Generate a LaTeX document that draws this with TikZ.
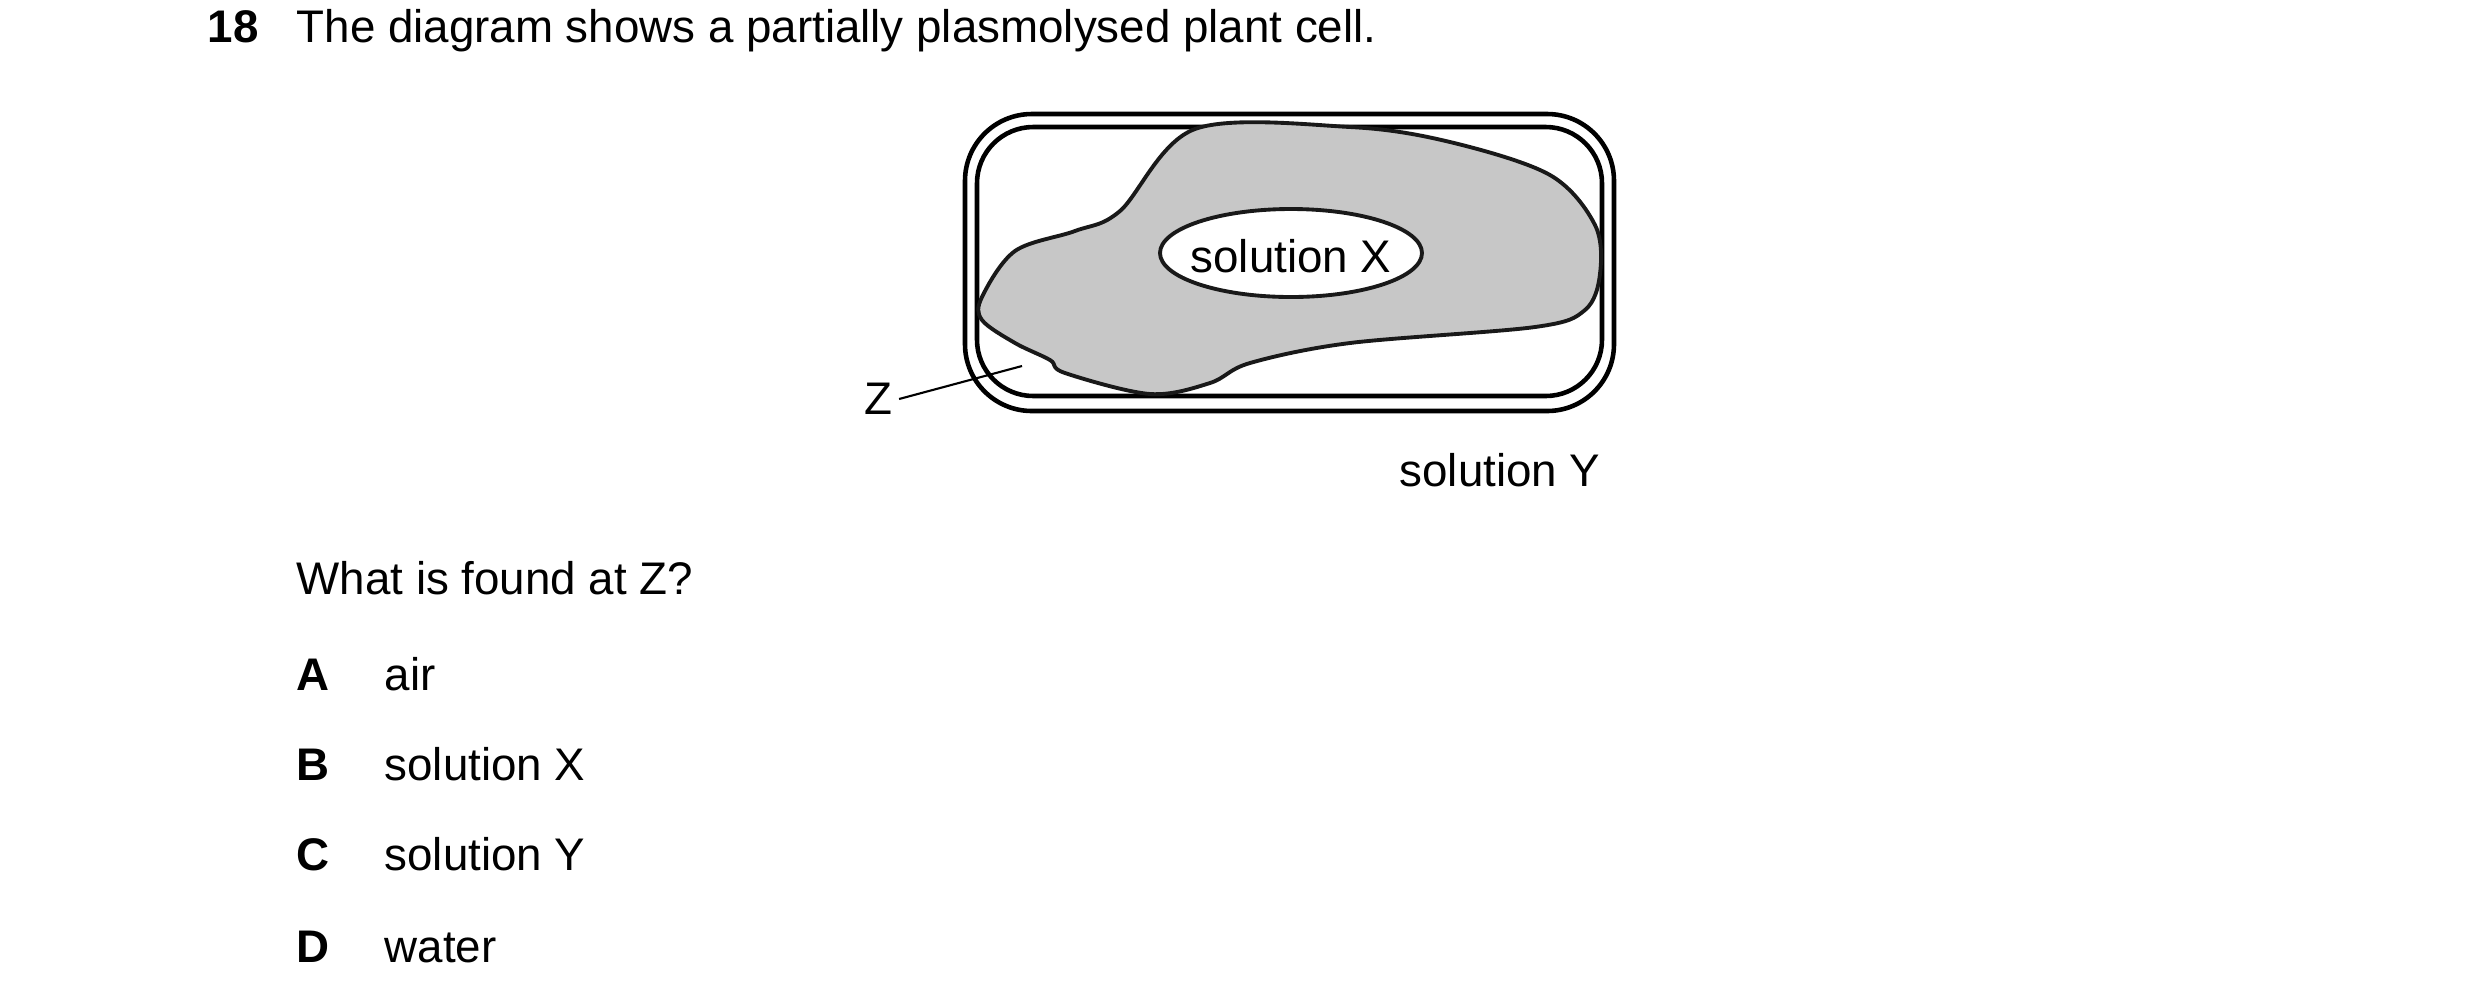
\documentclass[tikz,border=0pt]{standalone}
\usepackage{fontspec}
\setmainfont{Liberation Sans}
\begin{document}
\begin{tikzpicture}[x=0.01cm, y=-0.01cm, every node/.style={font=\fontsize{13}{15}\selectfont, inner sep=0pt}]
  \def\wallw{1.3pt}
  \useasboundingbox (0,0) rectangle (2480,1005);

  % question text
  \node[anchor=base west, font=\fontsize{13}{15}\selectfont\bfseries] (qnum) at (207,42) {18};
  \node[anchor=base west] (qtext) at (296,42) {The diagram shows a partially plasmolysed plant cell.};
  \node[anchor=base west] (ask) at (296,594) {What is found at Z?};

  % cell walls
  \draw[line width=\wallw, rounded corners=19pt] (965,114) rectangle (1614,411);
  \draw[line width=\wallw, rounded corners=16pt] (977,127) rectangle (1602,396);

  % protoplast
  \filldraw[fill=black!22, draw=black!90, line width=1.1pt]
    plot[smooth cycle, tension=0.55] coordinates {
      (1195,129) (1350,127) (1450,142) (1550,175) (1595,225) (1600,274)
      (1585,310) (1535,327) (1350,343) (1250,363) (1210,383) (1150,394)
      (1065,373) (1050,360) (1015,343) (982,320) (982,297) (1015,251)
      (1075,231) (1120,211)};

  % vacuole
  \filldraw[fill=white, draw=black!90, line width=1.1pt] (1291,253) ellipse (131 and 44);
  \node (solx) at (1291,256) {solution X};

  % labels
  \node (zlab) at (878,399) {Z};
  \coordinate (zpt) at (1022,366);
  \draw[line width=0.6pt] ([xshift=6pt]zlab.center) -- (zpt);
  \node (soly) at (1500,470) {solution Y};

  % options
  \foreach \lt/\ans/\yb in {A/air/690, B/solution X/780, C/solution Y/870, D/water/962} {
    \node[anchor=base west, font=\fontsize{13}{15}\selectfont\bfseries] (opt\lt) at (296,\yb) {\lt};
    \node[anchor=base west] (ans\lt) at (384,\yb) {\ans};
  }
\end{tikzpicture}
\end{document}
